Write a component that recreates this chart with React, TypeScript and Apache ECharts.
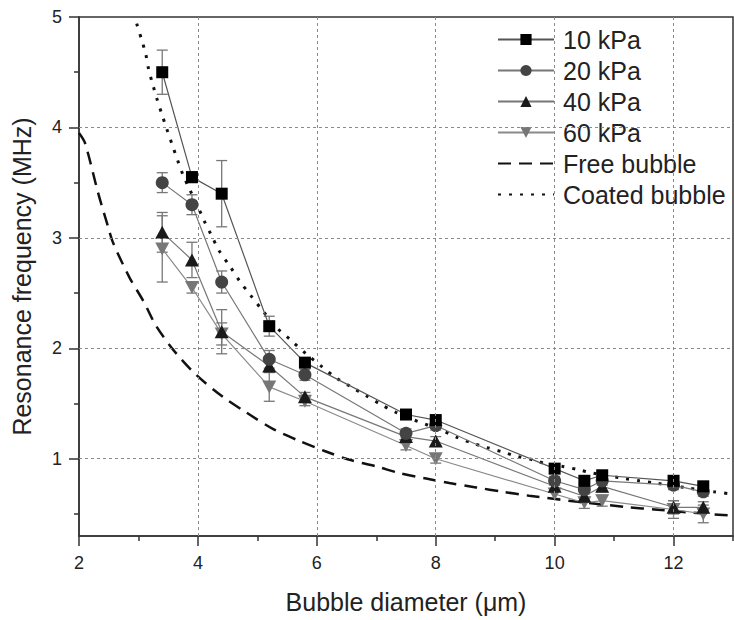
import React, { useEffect, useRef } from "react";
import * as echarts from "echarts";

const FONT = "'Liberation Sans', Arial, Helvetica, sans-serif";

// Bubble diameters (µm)
const diameters = [3.4, 3.9, 4.4, 5.2, 5.8, 7.5, 8.0, 10.0, 10.5, 10.8, 12.0, 12.5];
// Resonance frequencies (MHz) and error bars
const f10 = [4.5, 3.55, 3.4, 2.2, 1.87, 1.4, 1.35, 0.91, 0.8, 0.85, 0.8, 0.75];
const e10 = [0.2, 0.05, 0.3, 0.09, 0.04, 0.03, 0.03, 0.04, 0.03, 0.03, 0.03, 0.03];
const f20 = [3.5, 3.3, 2.6, 1.9, 1.76, 1.23, 1.3, 0.8, 0.72, 0.8, 0.76, 0.7];
const e20 = [0.09, 0.09, 0.1, 0.08, 0.05, 0.04, 0.04, 0.04, 0.04, 0.04, 0.04, 0.04];
const f40 = [3.05, 2.8, 2.15, 1.84, 1.56, 1.2, 1.16, 0.75, 0.66, 0.75, 0.56, 0.56];
const e40 = [0.18, 0.16, 0.2, 0.05, 0.04, 0.04, 0.04, 0.04, 0.04, 0.05, 0.06, 0.05];
const f60 = [2.9, 2.55, 2.13, 1.65, 1.52, 1.12, 1.0, 0.68, 0.6, 0.62, 0.54, 0.5];
const e60 = [0.3, 0.05, 0.1, 0.13, 0.04, 0.04, 0.04, 0.04, 0.05, 0.05, 0.08, 0.08];

// Model curves
const freeX = [2.0, 2.1, 2.32, 2.49, 2.57, 2.85, 3.08, 3.3, 3.61, 3.97, 4.42, 4.81, 5.26, 5.71, 6.13, 6.55, 7.0, 7.39, 7.84, 8.23, 8.68, 9.13, 9.57, 10.39, 11.26, 11.68, 12.57, 13.0];
const freeY = [3.95, 3.86, 3.41, 3.1, 2.96, 2.64, 2.43, 2.2, 1.97, 1.76, 1.56, 1.42, 1.27, 1.16, 1.07, 0.99, 0.93, 0.87, 0.82, 0.78, 0.74, 0.7, 0.665, 0.61, 0.56, 0.54, 0.5, 0.485];
const coatedX = [2.97, 3.05, 3.12, 3.17, 3.24, 3.31, 3.4, 3.48, 3.57, 3.66, 3.75, 3.86, 3.97, 4.1, 4.23, 4.36, 4.53, 4.7, 4.9, 5.09, 5.32, 5.57, 5.82, 6.07, 6.33, 6.58, 6.83, 7.08, 7.33, 7.59, 8.13, 8.37, 8.62, 8.87, 9.13, 9.38, 9.63, 9.88, 10.14, 10.4, 10.64, 11.17, 11.42, 11.68, 12.18, 12.68, 13.0];
const coatedY = [4.94, 4.8, 4.67, 4.53, 4.39, 4.26, 4.11, 3.98, 3.84, 3.7, 3.57, 3.44, 3.32, 3.16, 3.02, 2.88, 2.75, 2.61, 2.47, 2.34, 2.19, 2.07, 1.95, 1.84, 1.73, 1.65, 1.57, 1.49, 1.42, 1.36, 1.25, 1.19, 1.14, 1.1, 1.06, 1.02, 0.99, 0.95, 0.93, 0.9, 0.87, 0.82, 0.8, 0.78, 0.74, 0.7, 0.68];

const xLabelTicks = [2, 4, 6, 8, 10, 12];
const xMinorTicks = [3, 5, 7, 9, 11, 13];
const yLabelTicks = [1, 2, 3, 4, 5];
const yMinorTicks = [0.5, 1.5, 2.5, 3.5, 4.5];
const xGrid = [4, 6, 8, 10, 12];
const yGrid = [1, 2, 3, 4];

const INV_TRI = "path://M0,0 L10,0 L5,9 Z";

function errorSeries(vals: number[], errs: number[], color: string) {
  return {
    type: "custom",
    silent: true,
    z: 1,
    data: diameters.map((d, i) => [d, vals[i] - errs[i], vals[i] + errs[i]]),
    encode: { x: 0, y: [1, 2] },
    renderItem: (_params: any, api: any) => {
      const x = api.value(0);
      const lo = api.coord([x, api.value(1)]);
      const hi = api.coord([x, api.value(2)]);
      const w = 5.5;
      const style = { stroke: color, lineWidth: 1.3 };
      return {
        type: "group",
        children: [
          { type: "line", shape: { x1: lo[0], y1: lo[1], x2: hi[0], y2: hi[1] }, style },
          { type: "line", shape: { x1: lo[0] - w, y1: lo[1], x2: lo[0] + w, y2: lo[1] }, style },
          { type: "line", shape: { x1: hi[0] - w, y1: hi[1], x2: hi[0] + w, y2: hi[1] }, style },
        ],
      };
    },
  };
}

function pts(xs: number[], ys: number[]) {
  return xs.map((x, i) => [x, ys[i]]);
}

export default function App() {
  const ref = useRef<HTMLDivElement>(null);
  useEffect(() => {
    if (!ref.current) return;
    const chart = echarts.init(ref.current, null, { renderer: "svg" });
    const axisLineStyle = { color: "#333", width: 1.5 };
    const gridLine = { color: "#8a8a8a", width: 1, type: [3, 3] as any };
    chart.setOption({
      animation: false,
      backgroundColor: "#fff",
      grid: { left: 79, right: 1, top: 17, bottom: 84, show: true, borderColor: "#333", borderWidth: 1.5, backgroundColor: "transparent" },
      legend: {
        orient: "vertical",
        left: 497,
        top: 27,
        padding: 0,
        itemWidth: 56,
        itemHeight: 14,
        itemGap: 6,
        selectedMode: false,
        textStyle: { fontSize: 25, color: "#222", fontFamily: FONT, padding: [0, 0, 0, 4] },
        data: [
          "10 kPa",
          "20 kPa",
          "40 kPa",
          "60 kPa",
          { name: "Free bubble", itemStyle: { opacity: 0 } },
          { name: "Coated bubble", itemStyle: { opacity: 0 } },
        ],
      },
      xAxis: [
        {
          type: "value",
          min: 2,
          max: 13,
          position: "bottom",
          name: "Bubble diameter (\u03bcm)",
          nameLocation: "middle",
          nameGap: 53,
          nameTextStyle: { fontSize: 25, color: "#222", fontFamily: FONT },
          axisLine: { show: true, onZero: false, lineStyle: axisLineStyle },
          axisTick: { show: true, inside: false, length: 10, customValues: xLabelTicks, lineStyle: axisLineStyle },
          axisLabel: { show: true, customValues: xLabelTicks, margin: 18, fontSize: 18, color: "#222", fontFamily: FONT },
          splitLine: { show: false },
        },
        {
          type: "value",
          min: 2,
          max: 13,
          position: "bottom",
          axisLine: { show: false, onZero: false },
          axisTick: { show: true, inside: false, length: 5, customValues: xMinorTicks, lineStyle: axisLineStyle },
          axisLabel: { show: false },
          splitLine: { show: false },
        },
      ],
      yAxis: [
        {
          type: "value",
          min: 0.3,
          max: 5,
          position: "left",
          name: "Resonance frequency (MHz)",
          nameLocation: "middle",
          nameGap: 45,
          nameTextStyle: { fontSize: 25, color: "#222", fontFamily: FONT },
          axisLine: { show: true, onZero: false, lineStyle: axisLineStyle },
          axisTick: { show: true, inside: false, length: 10, customValues: yLabelTicks, lineStyle: axisLineStyle },
          axisLabel: { show: true, customValues: yLabelTicks, margin: 17, fontSize: 18, color: "#222", fontFamily: FONT },
          splitLine: { show: false },
        },
        {
          type: "value",
          min: 0.3,
          max: 5,
          position: "left",
          axisLine: { show: false, onZero: false },
          axisTick: { show: true, inside: false, length: 5, customValues: yMinorTicks, lineStyle: axisLineStyle },
          axisLabel: { show: false },
          splitLine: { show: false },
        },
      ],
      series: [
        {
          type: "line",
          name: "grid",
          data: [],
          silent: true,
          z: 0,
          markLine: {
            silent: true,
            symbol: "none",
            label: { show: false },
            lineStyle: gridLine,
            data: [...xGrid.map((v) => ({ xAxis: v })), ...yGrid.map((v) => ({ yAxis: v }))],
          },
        },
        {
          name: "Free bubble",
          type: "line",
          data: pts(freeX, freeY),
          symbol: "none",
          smooth: 0.3,
          z: 2,
          itemStyle: { color: "#111" },
          lineStyle: { color: "#111", width: 2.5, type: [13, 8] },
        },
        {
          name: "Coated bubble",
          type: "line",
          data: pts(coatedX, coatedY),
          symbol: "none",
          smooth: 0.3,
          z: 2,
          itemStyle: { color: "#111" },
          lineStyle: { color: "#111", width: 3, type: [3, 8] },
        },
        errorSeries(f10, e10, "#777"),
        errorSeries(f20, e20, "#777"),
        errorSeries(f40, e40, "#777"),
        errorSeries(f60, e60, "#777"),
        {
          name: "60 kPa",
          type: "line",
          data: pts(diameters, f60),
          symbol: INV_TRI,
          symbolSize: [14, 13],
          z: 3,
          itemStyle: { color: "#777" },
          lineStyle: { color: "#8a8a8a", width: 1.2 },
        },
        {
          name: "40 kPa",
          type: "line",
          data: pts(diameters, f40),
          symbol: "triangle",
          symbolSize: [14, 13],
          z: 3,
          itemStyle: { color: "#1a1a1a" },
          lineStyle: { color: "#777", width: 1.2 },
        },
        {
          name: "20 kPa",
          type: "line",
          data: pts(diameters, f20),
          symbol: "circle",
          symbolSize: 13,
          z: 3,
          itemStyle: { color: "#444" },
          lineStyle: { color: "#777", width: 1.2 },
        },
        {
          name: "10 kPa",
          type: "line",
          data: pts(diameters, f10),
          symbol: "rect",
          symbolSize: 12,
          z: 3,
          itemStyle: { color: "#000" },
          lineStyle: { color: "#555", width: 1.2 },
        },
      ],
    });
    return () => chart.dispose();
  }, []);
  return <div ref={ref} style={{ position: "fixed", left: 0, top: 0, width: 734, height: 620, background: "#fff" }} />;
}
